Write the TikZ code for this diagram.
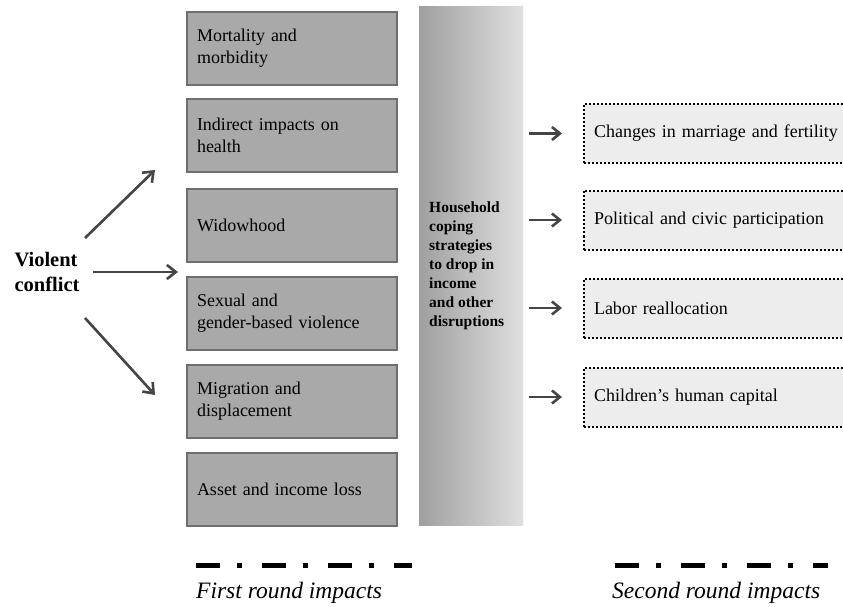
\documentclass[tikz,border=0pt]{standalone}
\usepackage{fontspec}
\setmainfont{Liberation Serif}
\usetikzlibrary{arrows.meta,positioning}
\definecolor{boxfill}{HTML}{A9A9A9}
\definecolor{boxline}{HTML}{6E6E6E}
\definecolor{lightfill}{HTML}{EDEDED}
\definecolor{arrowcol}{HTML}{454545}
\tikzset{
  firstbox/.style={draw=boxline, line width=2pt, fill=boxfill, minimum width=210pt, minimum height=73pt,
    text width=190pt, inner sep=10pt, align=left, font=\fontsize{18}{22}\selectfont},
  secondbox/.style={draw=black, line width=2pt, dotted, fill=lightfill, minimum height=59pt,
    text width=256pt, inner sep=10pt, align=left, font=\fontsize{18}{22}\selectfont},
  bigarrow/.style={draw=arrowcol, line width=2.6pt, -{Straight Barb[length=9pt,width=14pt,line width=2.6pt]}},
  smallarrow/.style={draw=arrowcol, line width=2.6pt, -{Straight Barb[length=8pt,width=13pt,line width=2.6pt]}},
  legendline/.style={line width=5pt, dash pattern=on 24pt off 17pt on 5pt off 20pt},
  legendtext/.style={font=\fontsize{23.5}{28}\selectfont\itshape, anchor=west, inner sep=0pt}
}
\begin{document}
\begin{tikzpicture}[x=1pt,y=-1pt]
\useasboundingbox (0,0) rectangle (843,607);
\clip (0,0) rectangle (843,607);
\fill[white] (0,0) rectangle (843,607);

% first round boxes
\node[firstbox] (b1) at (292,48.5) {Mortality and\\morbidity};
\node[firstbox] (b2) at (292,135.5) {Indirect impacts on\\health};
\node[firstbox] (b3) at (292,225.5) {Widowhood};
\node[firstbox] (b4) at (292,313.5) {Sexual and\\gender-based violence};
\node[firstbox] (b5) at (292,401.5) {Migration and\\displacement};
\node[firstbox] (b6) at (292,489.5) {Asset and income loss};

% coping bar
\shade[left color=gray!75, right color=gray!25] (419,7) rectangle (523,525);
\node[anchor=west, align=left, inner sep=0pt, font=\fontsize{15.5}{19}\selectfont\bfseries] (cope) at (429,265.5)
  {Household\\coping\\strategies\\to drop in\\income\\and other\\disruptions};

% violent conflict
\node[align=left, inner sep=0pt, font=\fontsize{20.5}{25}\selectfont\bfseries] (vc) at (47,272) {Violent\\conflict};
\coordinate (u0) at (85,238); \coordinate (u1) at (155,170);
\coordinate (m0) at (93,272); \coordinate (m1) at (178,272);
\coordinate (d0) at (85,318); \coordinate (d1) at (155,395);
\draw[bigarrow] (u0) -- (u1);
\draw[bigarrow] (m0) -- (m1);
\draw[bigarrow] (d0) -- (d1);

% second round boxes
\node[secondbox] (s1) at (722,133.5) {Changes in marriage and fertility};
\node[secondbox] (s2) at (722,220) {Political and civic participation};
\node[secondbox] (s3) at (722,308) {Labor reallocation};
\node[secondbox] (s4) at (722,397) {Children’s human capital};

\foreach \s in {s1,s2,s3,s4}{
  \draw[smallarrow] ([xshift=-54pt]\s.west) -- ([xshift=-21pt]\s.west);
}

% legend
\coordinate (l1a) at (196,565); \coordinate (l1b) at (412,565);
\coordinate (l2a) at (615,565); \coordinate (l2b) at (828,565);
\draw[legendline] (l1a) -- (l1b);
\draw[legendline] (l2a) -- (l2b);
\node[legendtext] (t1) at (196,593) {First round impacts};
\node[legendtext] (t2) at (612,593) {Second round impacts};
\end{tikzpicture}
\end{document}
